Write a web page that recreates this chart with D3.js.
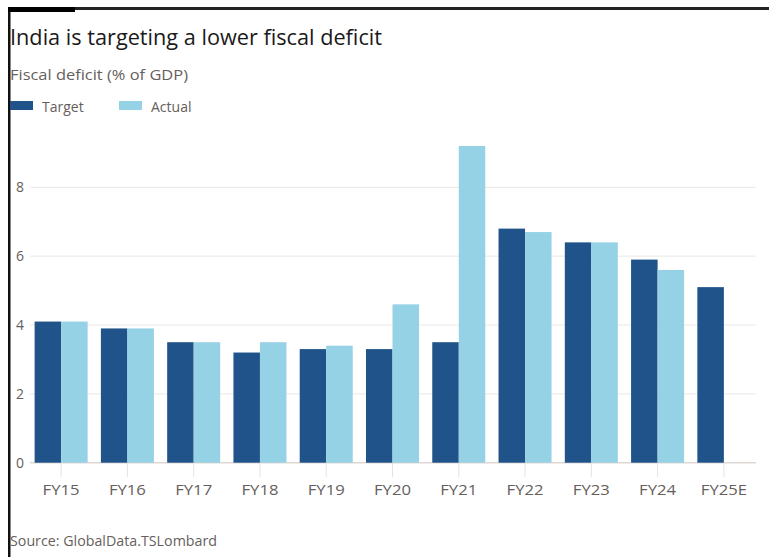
<!DOCTYPE html>
<html>
<head>
<meta charset="utf-8">
<script src="https://cdn.jsdelivr.net/npm/d3@7"></script>
<style>
  body { margin: 0; background: #fff; }
  text { font-family: "Open Sans", "Noto Sans", sans-serif; }
</style>
</head>
<body>
<svg id="chart" width="769" height="557"></svg>
<script>
// ─── Data ─────────────────────────────────────────────────────────────────────
const years = ["FY15", "FY16", "FY17", "FY18", "FY19", "FY20", "FY21", "FY22", "FY23", "FY24", "FY25E"];
const target = [4.1, 3.9, 3.5, 3.2, 3.3, 3.3, 3.5, 6.8, 6.4, 5.9, 5.1];
const actual = [4.1, 3.9, 3.5, 3.5, 3.4, 4.6, 9.2, 6.7, 6.4, 5.6, null];
const yTicks = [0, 2, 4, 6, 8];
const seriesNames = ["Target", "Actual"];
const seriesColors = ["#1f538a", "#96d2e6"];

const svg = d3.select("#chart");
const grey = "#66605c";

// frame: top rule + left rule + little accent block
svg.append("rect").attr("x", 8).attr("y", 7).attr("width", 761).attr("height", 3).attr("fill", "#222");
svg.append("rect").attr("x", 8).attr("y", 7).attr("width", 2.5).attr("height", 550).attr("fill", "#111");
svg.append("rect").attr("x", 8).attr("y", 7).attr("width", 67).attr("height", 5).attr("fill", "#000");

// titles
svg.append("text").attr("x", 10).attr("y", 45)
    .attr("font-size", 22).attr("fill", "#1a1a1a")
    .attr("textLength", 372).attr("lengthAdjust", "spacingAndGlyphs")
    .text("India is targeting a lower fiscal deficit");

svg.append("text").attr("x", 10).attr("y", 80)
    .attr("font-size", 15).attr("fill", grey)
    .attr("textLength", 178).attr("lengthAdjust", "spacingAndGlyphs")
    .text("Fiscal deficit (% of GDP)");

// legend
const legendX = [10, 119];
seriesNames.forEach((name, i) => {
    svg.append("rect").attr("x", legendX[i]).attr("y", 101)
        .attr("width", 23).attr("height", 9).attr("fill", seriesColors[i]);
    svg.append("text").attr("x", legendX[i] + 32).attr("y", 112)
        .attr("font-size", 14).attr("fill", grey)
        .text(name);
});

// scales
const y = d3.scaleLinear().domain([0, 8]).range([462.7, 187.3]);
const x = d3.scaleBand().domain(years).range([28, 757]).paddingInner(0.2).paddingOuter(0.1);
const xs = d3.scaleBand().domain(seriesNames).range([0, x.bandwidth()]);

// gridlines
svg.append("g").selectAll("line").data(yTicks).join("line")
    .attr("x1", 30).attr("x2", 756)
    .attr("y1", d => y(d)).attr("y2", d => y(d))
    .attr("stroke", d => d === 0 ? "#ddd8d4" : "#ebe8e6")
    .attr("stroke-width", d => d === 0 ? 1.5 : 1);

// y labels
svg.append("g").selectAll("text").data(yTicks).join("text")
    .attr("x", 16).attr("y", d => y(d) + 5)
    .attr("font-size", 14).attr("fill", grey)
    .text(d => d);

// x ticks + labels
const xAxis = svg.append("g");
xAxis.selectAll("line").data(years).join("line")
    .attr("x1", d => x(d) + x.bandwidth() / 2).attr("x2", d => x(d) + x.bandwidth() / 2)
    .attr("y1", 463).attr("y2", 477)
    .attr("stroke", "#e6e2df");
xAxis.selectAll("text").data(years).join("text")
    .attr("x", d => x(d) + x.bandwidth() / 2).attr("y", 495)
    .attr("text-anchor", "middle")
    .attr("font-size", 14).attr("fill", grey)
    .attr("textLength", d => d.length > 4 ? 46 : 37).attr("lengthAdjust", "spacingAndGlyphs")
    .text(d => d);

// bars
const rows = years.map((yr, i) => ({ year: yr, values: [target[i], actual[i]] }));
const groups = svg.append("g").selectAll("g").data(rows).join("g")
    .attr("transform", d => `translate(${x(d.year)},0)`);
groups.selectAll("rect")
    .data(d => d.values.map((v, j) => ({ name: seriesNames[j], value: v, color: seriesColors[j] }))
        .filter(e => e.value != null))
    .join("rect")
    .attr("x", d => xs(d.name))
    .attr("width", xs.bandwidth())
    .attr("y", d => y(d.value))
    .attr("height", d => y(0) - y(d.value))
    .attr("fill", d => d.color);

// source
svg.append("text").attr("x", 10).attr("y", 546)
    .attr("font-size", 15).attr("fill", grey)
    .attr("textLength", 207).attr("lengthAdjust", "spacingAndGlyphs")
    .text("Source: GlobalData.TSLombard");
</script>
</body>
</html>
